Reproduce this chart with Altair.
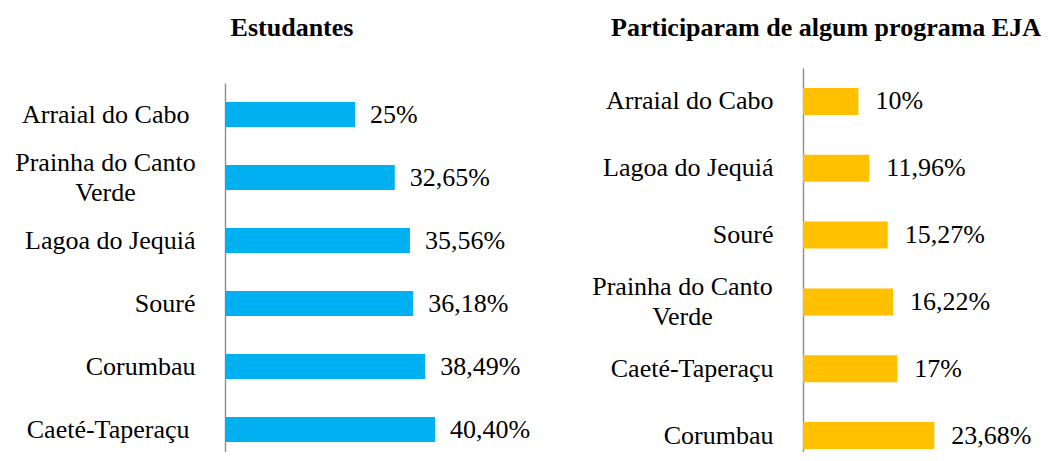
import altair as alt
import pandas as pd

# Panel titles
titles = ["Estudantes", "Participaram de algum programa EJA"]

# Left panel: Estudantes
left_names = ["Arraial do Cabo", "Prainha do Canto Verde", "Lagoa do Jequiá",
              "Souré", "Corumbau", "Caeté-Taperaçu"]
left_vals = [25, 32.65, 35.56, 36.18, 38.49, 40.40]
left_labels = ["25%", "32,65%", "35,56%", "36,18%", "38,49%", "40,40%"]

# Right panel: Participaram de algum programa EJA
right_names = ["Arraial do Cabo", "Lagoa do Jequiá", "Souré",
               "Prainha do Canto Verde", "Caeté-Taperaçu", "Corumbau"]
right_vals = [10, 11.96, 15.27, 16.22, 17, 23.68]
right_labels = ["10%", "11,96%", "15,27%", "16,22%", "17%", "23,68%"]

FONT = "Liberation Serif"

left_df = pd.DataFrame({"local": left_names, "valor": left_vals, "rotulo": left_labels})
right_df = pd.DataFrame({"local": right_names, "valor": right_vals, "rotulo": right_labels})

IS_TWO = "datum.value == 'Prainha do Canto Verde'"
LABEL_EXPR = IS_TWO + " ? ['Prainha do Canto', 'Verde'] : datum.label"

left_padding = {
    "condition": [
        {"test": IS_TWO, "value": 120},
        {"test": "datum.value == 'Arraial do Cabo' || datum.value == 'Caeté-Taperaçu'",
         "value": 36},
    ],
    "value": 30,
}
right_padding = {"condition": {"test": IS_TWO, "value": 121}, "value": 30}

PLOT_H = 401


def panel(df, order, color, title, xmax, width, yrange, barsize, lpad, tx, tdx):
    y_axis = alt.Axis(
        title=None, ticks=False, domain=True, domainColor="#8c8c8c", domainWidth=1.4,
        labelFont=FONT, labelFontSize=26, labelColor="black", labelLimit=0,
        labelLineHeight=30, labelExpr=LABEL_EXPR, labelPadding=lpad,
        labelAlign={"condition": {"test": IS_TWO, "value": "center"}, "value": "right"},
        labelOffset={"condition": {"test": IS_TWO, "value": -15}, "value": 0},
    )
    base = alt.Chart(df).encode(
        y=alt.Y("local:N", sort=order, axis=y_axis,
                scale=alt.Scale(paddingInner=0, paddingOuter=0, range=yrange)),
        x=alt.X("valor:Q", axis=None, scale=alt.Scale(domain=[0, xmax])),
    )
    bars = base.mark_bar(color=color, size=barsize)
    text = base.mark_text(align="left", baseline="middle", dx=tdx, font=FONT,
                          fontSize=26, color="black").encode(text="rotulo:N")
    head = alt.Chart(pd.DataFrame({"titulo": [title]})).mark_text(
        align="center", baseline="middle", font=FONT, fontSize=26, fontWeight="bold",
        color="black"
    ).encode(text="titulo:N", x=alt.value(tx), y=alt.value(-40))
    return (bars + text + head).properties(width=width, height=PLOT_H)


left = panel(left_df, left_names, "#00B0F0", titles[0], 60, 312, [15, 393], 25,
             left_padding, 67, 15)
right = panel(right_df, right_names, "#FFC000", titles[1],
              42, 233, [0, PLOT_H], 27, right_padding, 23, 17)

chart = alt.hconcat(left, right, spacing=54).properties(
    padding={"left": 6, "top": 7, "right": 0, "bottom": -17}
).configure_view(stroke=None)

chart.save("out.html", embed_options={"renderer": "svg", "actions": False})
